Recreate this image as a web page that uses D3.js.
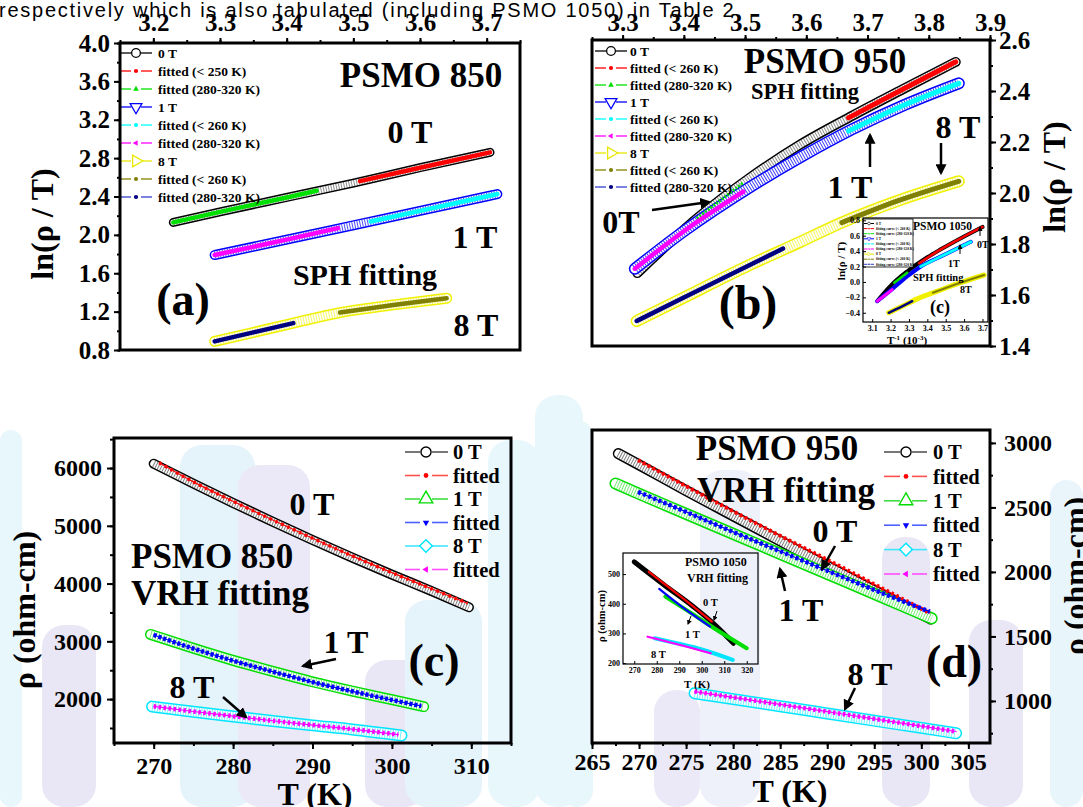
<!DOCTYPE html>
<html>
<head>
<meta charset="utf-8">
<script src="https://cdn.jsdelivr.net/npm/d3@7"></script>
<style>
body{margin:0;background:#fff;}
svg{display:block;}
</style>
</head>
<body>
<svg id="fig" width="1083" height="807"></svg>
<script>
//resistivity fits for PSMO 850 / 950 / 1050, four panels + two insets

// ---- (a) PSMO 850, SPH: x = 1/T (10^-3 K^-1), y = ln(rho/T)
var aTicksX = [3.2,3.3,3.4,3.5,3.6,3.7];
var aTicksY = [0.8,1.2,1.6,2.0,2.4,2.8,3.2,3.6,4.0];
var a0T     = [[3.23,2.13],[3.30,2.24],[3.40,2.39],[3.50,2.54],[3.60,2.70],[3.705,2.86]];
var a0Tlow  = [[3.51,2.56],[3.60,2.70],[3.705,2.86]];
var a0Thigh = [[3.23,2.13],[3.30,2.24],[3.40,2.39],[3.445,2.46]];
var a1T     = [[3.292,1.79],[3.40,1.95],[3.50,2.10],[3.60,2.25],[3.716,2.425]];
var a1Tlow  = [[3.526,2.14],[3.60,2.25],[3.716,2.425]];
var a1Thigh = [[3.292,1.79],[3.40,1.95],[3.477,2.07]];
var a8T     = [[3.292,0.89],[3.41,1.08],[3.48,1.19],[3.56,1.27],[3.64,1.34]];
var a8Tlow  = [[3.48,1.19],[3.56,1.27],[3.64,1.34]];
var a8Thigh = [[3.292,0.89],[3.41,1.08]];
var aLegend = ["0 T","fitted (< 250 K)","fitted (280-320 K)","1 T","fitted (< 260 K)","fitted (280-320 K)","8 T","fitted (< 260 K)","fitted (280-320 K)"];

// ---- (b) PSMO 950, SPH
var bTicksX = [3.3,3.4,3.5,3.6,3.7,3.8,3.9];
var bTicksY = [1.4,1.6,1.8,2.0,2.2,2.4,2.6];
var b0T     = [[3.324,1.686],[3.421,1.90],[3.506,2.057],[3.59,2.19],[3.675,2.303],[3.76,2.41],[3.844,2.514]];
var b0Tlow  = [[3.669,2.295],[3.76,2.41],[3.844,2.514]];
var b0Thigh = [[3.421,1.90],[3.497,2.04]];
var b1T     = [[3.32,1.703],[3.40,1.85],[3.506,2.02],[3.59,2.14],[3.675,2.25],[3.76,2.345],[3.849,2.43]];
var b1Tlow  = [[3.669,2.243],[3.76,2.345],[3.849,2.43]];
var b1Thigh = [[3.32,1.703],[3.40,1.85],[3.497,2.005]];
var b8T     = [[3.323,1.498],[3.40,1.59],[3.506,1.716],[3.59,1.808],[3.658,1.884],[3.75,1.97],[3.849,2.046]];
var b8Tlow  = [[3.658,1.884],[3.75,1.97],[3.849,2.046]];
var b8Thigh = [[3.323,1.498],[3.40,1.59],[3.506,1.716],[3.562,1.782]];
var bLegend = ["0 T","fitted (< 260 K)","fitted (280-320 K)","1 T","fitted (< 260 K)","fitted (280-320 K)","8 T","fitted (< 260 K)","fitted (280-320 K)"];

// ---- inset of (b): PSMO 1050, SPH
var icTicksX = [3.1,3.2,3.3,3.4,3.5,3.6,3.7];
var icTicksY = [-0.4,-0.2,0.0,0.2,0.4,0.6,0.8];
var ic0T     = [[3.13,-0.24],[3.2,-0.05],[3.29,0.136],[3.4,0.32],[3.473,0.423],[3.6,0.59],[3.7,0.714]];
var ic0Tlow  = [[3.355,0.243],[3.473,0.423],[3.6,0.59],[3.7,0.714]];
var ic0Thigh = [[3.22,-0.01],[3.29,0.12]];
var ic1T     = [[3.127,-0.25],[3.21,-0.09],[3.29,0.07],[3.364,0.2],[3.473,0.33],[3.636,0.52]];
var ic1Tlow  = [[3.364,0.2],[3.473,0.33],[3.636,0.52]];
var ic1Thigh = [[3.127,-0.25],[3.209,-0.1]];
var ic8T     = [[3.19,-0.40],[3.26,-0.32],[3.345,-0.22],[3.455,-0.12],[3.58,-0.01],[3.709,0.09]];
var ic8Tlow  = [[3.43,-0.14],[3.58,-0.01],[3.709,0.09]];
var ic8Thigh = [[3.19,-0.40],[3.26,-0.32],[3.318,-0.25]];
var icLegend = ["0 T","fitting curve (< 260 K)","fitting curve (280-320 K)","1 T","fitting curve (< 260 K)","fitting curve (280-320 K)","8 T","fitting curve (< 260 K)","fitting curve (280-320 K)"];

// ---- (c) PSMO 850, VRH: T (K) vs rho (ohm-cm)
var cTicksX = [270,280,290,300,310];
var cTicksY = [2000,3000,4000,5000,6000];
var c0T    = [[270,6075],[275,5730],[280,5395],[285,5070],[290,4755],[295,4450],[300,4155],[305,3870],[309.7,3590]];
var c0Tfit = [[270.7,6090],[275,5760],[280,5425],[285,5100],[290,4785],[295,4480],[300,4190],[305,3910],[309.5,3660]];
var c1T    = [[269.6,3120],[275,2880],[280,2670],[285,2480],[290,2300],[295,2140],[300,1990],[304,1870]];
var c1Tfit = [[270,3110],[275,2875],[280,2665],[285,2475],[290,2295],[295,2135],[300,1985],[303.7,1880]];
var c8T    = [[269.8,1870],[275,1780],[280,1700],[285,1620],[290,1545],[295,1475],[301.2,1370]];
var c8Tfit = [[270,1875],[275,1785],[280,1705],[285,1625],[290,1550],[295,1480],[300.8,1385]];
var vrhLegend = ["0 T","fitted","1 T","fitted","8 T","fitted"];

// ---- (d) PSMO 950, VRH
var dTicksX = [265,270,275,280,285,290,295,300,305];
var dTicksY = [1000,1500,2000,2500,3000];
var d0T    = [[267.8,2917],[270,2830],[275,2630],[280,2435],[285,2240],[290,2045],[295,1855],[301,1635]];
var d0Tfit = [[269.9,2866],[275,2665],[280,2470],[285,2280],[290,2095],[295,1905],[300.9,1680]];
var d1T    = [[267.5,2685],[270,2605],[275,2450],[280,2295],[285,2140],[290,1985],[295,1830],[301.1,1640]];
var d1Tfit = [[269.9,2620],[275,2465],[280,2310],[285,2160],[290,2010],[295,1860],[300.9,1692]];
var d8T    = [[275.9,1060],[280,1014],[285,959],[290,903],[295,847],[300,791],[303.7,750]];
var d8Tfit = [[275.9,1073],[280,1028],[290,917],[300,805],[303.7,763]];

// ---- inset of (d): PSMO 1050, VRH
var idTicksX = [270,280,290,300,310,320];
var idTicksY = [200,300,400,500];
var id0T    = [[270,541],[283,465],[296.3,390],[305,335],[314.1,267]];
var id0Tfit = [[276.4,508],[290,428],[304.5,340]];
var id1T    = [[283.8,424],[295,370],[305,320],[320,250]];
var id1Tfit = [[281.1,450],[292,385],[303.7,323]];
var id8T    = [[279,284],[290,265],[300,246],[313.8,211]];
var id8Tfit = [[275.9,289],[290,262],[304,233]];

var SERIF = '"Liberation Serif","Times New Roman",serif';
var svg = d3.select("#fig");

var defs = svg.append("defs");
function arrowHead(id, s){
	defs.append("marker").attr("id",id).attr("viewBox","0 0 10 10")
		.attr("refX",8).attr("refY",5).attr("markerWidth",s).attr("markerHeight",s)
		.attr("markerUnits","userSpaceOnUse").attr("orient","auto")
		.append("path").attr("d","M0,0L10,5L0,10z").attr("fill","#000");
}
arrowHead("ah",11);
arrowHead("ahs",5);

function txt(g,x,y,s,size,anchor,rot){
	var t = g.append("text").attr("x",x).attr("y",y)
		.attr("font-family",SERIF).attr("font-weight","bold").attr("font-size",size)
		.attr("text-anchor",anchor||"middle").attr("fill","#000").text(s);
	if(rot) t.attr("transform","rotate("+rot+","+x+","+y+")");
	return t;
}
function arrow(g,p,q,w,m){
	g.append("line").attr("x1",p[0]).attr("y1",p[1]).attr("x2",q[0]).attr("y2",q[1])
		.attr("stroke","#000").attr("stroke-width",w||2.5).attr("marker-end","url(#"+(m||"ah")+")");
}
function mkLine(x,y){
	return d3.line().x(function(d){return x(d[0])}).y(function(d){return y(d[1])}).curve(d3.curveMonotoneX);
}
//dense open markers read as a hatched band
function band(g,ln,data,color,w,op){
	var d = ln(data);
	g.append("path").attr("d",d).attr("fill","none").attr("stroke",color).attr("stroke-width",w).attr("stroke-linecap","round");
	g.append("path").attr("d",d).attr("fill","none").attr("stroke","#fff").attr("stroke-width",w-3).attr("stroke-linecap","round");
	g.append("path").attr("d",d).attr("fill","none").attr("stroke",color).attr("stroke-width",w-3)
		.attr("stroke-dasharray","1 1.6").attr("opacity",op||0.55);
}
function fit(g,ln,data,color,w,dash){
	g.append("path").attr("d",ln(data)).attr("fill","none").attr("stroke",color).attr("stroke-width",w)
		.attr("stroke-linecap",dash?"butt":"round").attr("stroke-dasharray",dash||null);
}
function axis(g,kind,scale,pos,major,minor,o){
	var gen = {top:d3.axisTop,bottom:d3.axisBottom,left:d3.axisLeft,right:d3.axisRight}[kind];
	var tr = (kind=="top"||kind=="bottom") ? "translate(0,"+pos+")" : "translate("+pos+",0)";
	var gm = g.append("g").attr("transform",tr)
		.call(gen(scale).tickValues(minor).tickSize(o.minor).tickFormat(""));
	var gM = g.append("g").attr("transform",tr)
		.call(gen(scale).tickValues(major).tickSize(o.size).tickPadding(o.pad).tickFormat(o.fmt));
	[gm,gM].forEach(function(a){
		a.select(".domain").remove();
		a.selectAll("line").attr("stroke","#000").attr("stroke-width",o.tw||2);
	});
	gM.selectAll("text").attr("font-family",SERIF).attr("font-weight","bold")
		.attr("font-size",o.fs).attr("fill","#000");
	return gM;
}
function frame(g,b,w,fill){
	g.append("rect").attr("x",b.x0).attr("y",b.y0).attr("width",b.x1-b.x0).attr("height",b.y1-b.y0)
		.attr("fill",fill||"none").attr("stroke",fill?"none":"#000").attr("stroke-width",w||3);
}
function legend(g,labels,styles,o){
	labels.forEach(function(lab,i){
		var s = styles[i], yy = o.y + i*o.dy;
		g.append("line").attr("x1",o.x0).attr("x2",o.xs-o.gap).attr("y1",yy).attr("y2",yy)
			.attr("stroke",s.lc||s.c).attr("stroke-width",o.lw);
		g.append("line").attr("x1",o.xs+o.gap).attr("x2",o.x1).attr("y1",yy).attr("y2",yy)
			.attr("stroke",s.lc||s.c).attr("stroke-width",o.lw);
		g.append("path").attr("d",d3.symbol().type(s.t).size(s.open?o.big:o.small)())
			.attr("transform","translate("+o.xs+","+yy+") rotate("+(s.r||0)+")")
			.attr("fill",s.open?"#fff":s.c).attr("stroke",s.c).attr("stroke-width",s.open?o.sw:0);
		txt(g,o.tx,yy,lab,o.fs,"start").attr("dy","0.35em");
	});
}

var sphStyles = [
	{c:"#000",t:d3.symbolCircle,open:1},
	{c:"#ff0000",t:d3.symbolCircle},
	{c:"#00e000",t:d3.symbolTriangle},
	{c:"#0000ff",t:d3.symbolTriangle,r:180,open:1},
	{c:"#00ffff",t:d3.symbolCircle},
	{c:"#ff00ff",t:d3.symbolTriangle,r:-90},
	{c:"#e8e800",t:d3.symbolTriangle,r:90,open:1},
	{c:"#808000",t:d3.symbolCircle},
	{c:"#000080",t:d3.symbolCircle,lc:"#3340d0"}
];
var vrhStyles = [
	{c:"#000",t:d3.symbolCircle,open:1,lc:"#555"},
	{c:"#ff0000",t:d3.symbolCircle,lc:"#ff5050"},
	{c:"#00dd00",t:d3.symbolTriangle,open:1,lc:"#40dd40"},
	{c:"#0000ff",t:d3.symbolTriangle,r:180,lc:"#5060ff"},
	{c:"#00e5ff",t:d3.symbolSquare,r:45,open:1,lc:"#40e8ff"},
	{c:"#ff00ff",t:d3.symbolTriangle,r:-90,lc:"#ff50ff"}
];

// ---- faded background logo
var wm = svg.append("g").attr("opacity",0.5);
[
	[0,430,22,377,"#d3f0fa"],[42,625,54,182,"#d4cfee"],[180,445,75,362,"#cce8f8"],
	[238,465,72,342,"#d9d4f0"],[365,660,62,147,"#d4cfee"],[405,600,77,207,"#cce8f8"],
	[488,440,52,367,"#d3f1fa"],[535,395,48,412,"#d3f1fa"],[560,420,33,387,"#d3f1fa"],
	[654,690,46,117,"#d9d4f0"],[700,470,60,337,"#dfe3f6"],[882,537,48,270,"#d4cfee"],
	[969,620,54,187,"#d4cfee"],[1050,480,33,327,"#d3ecf8"]
].forEach(function(r){
	wm.append("rect").attr("x",r[0]).attr("y",r[1]).attr("width",r[2]).attr("height",r[3])
		.attr("rx",Math.min(22,r[2]/2)).attr("fill",r[4]);
});

// sentence from the paper page behind the figure
svg.append("text").attr("x",-1).attr("y",17).attr("font-family",'"Liberation Sans",Arial,sans-serif')
	.attr("font-size",20).attr("fill","#000")
	.attr("textLength",742).attr("lengthAdjust","spacing")
	.text("respectively which is also tabulated (including PSMO 1050) in Table 2.");

var f1 = d3.format(".1f");

// ================= (a)
var A = {x0:120,x1:520,y0:43,y1:350};
var gA = svg.append("g");
frame(gA,A,0,"#fff");
var xA = d3.scaleLinear().domain([3.15,3.75]).range([A.x0,A.x1]);
var yA = d3.scaleLinear().domain([0.8,4.0]).range([A.y1,A.y0]);
var lnA = mkLine(xA,yA);
band(gA,lnA,a0T,"#000",9,0.45);
fit(gA,lnA,a0Tlow,"#ff0000",4.5);
fit(gA,lnA,a0Thigh,"#00e000",4.5);
band(gA,lnA,a1T,"#0000ff",10,0.7);
fit(gA,lnA,a1Tlow,"#00ffff",4.5);
fit(gA,lnA,a1Thigh,"#ff00ff",4.5);
band(gA,lnA,a8T,"#f0f000",11,0.6);
fit(gA,lnA,a8Tlow,"#808000",4.5);
fit(gA,lnA,a8Thigh,"#000080",4.5);
legend(gA,aLegend,sphStyles,{x0:119,x1:152,xs:136,gap:5,tx:158,y:53,dy:18,lw:1.3,fs:13.5,big:60,small:14,sw:1.3});
frame(gA,A,3);
axis(gA,"top",xA,A.y0,aTicksX,d3.range(3.15,3.76,0.05),{size:5,minor:3,pad:7,fmt:f1,fs:25});
axis(gA,"left",yA,A.x0,aTicksY,d3.range(0.8,4.01,0.2),{size:6,minor:3,pad:4,fmt:f1,fs:25});
txt(gA,53,224,"ln(\u03C1 / T)",32,"middle",-90);
txt(gA,421,87,"PSMO 850",35);
txt(gA,410,143,"0 T",32);
txt(gA,475,248,"1 T",32);
txt(gA,365,285,"SPH fitting",30);
txt(gA,183,315,"(a)",46);
txt(gA,476,336,"8 T",32);

// ================= (b)
var B = {x0:592,x1:990,y0:40,y1:346};
var gB = svg.append("g");
frame(gB,B,0,"#fff");
defs.append("clipPath").attr("id","clipB").append("rect")
	.attr("x",B.x0).attr("y",B.y0).attr("width",B.x1-B.x0).attr("height",B.y1-B.y0);
var xB = d3.scaleLinear().domain([3.25,3.9]).range([B.x0,B.x1]);
var yB = d3.scaleLinear().domain([1.4,2.6]).range([B.y1,B.y0]);
var lnB = mkLine(xB,yB);
band(gB,lnB,b8T,"#f0f000",12,0.6);
fit(gB,lnB,b8Tlow,"#808000",5);
fit(gB,lnB,b8Thigh,"#000080",4.5);
band(gB,lnB,b0T,"#000",10,0.45);
band(gB,lnB,b1T,"#0000ff",12,0.75);
fit(gB,lnB,b0Tlow,"#ff0000",5);
fit(gB,lnB,b0Thigh,"#00e000",3,"2 1.5");
fit(gB,lnB,b1Tlow,"#00ffff",5);
fit(gB,lnB,b1Thigh,"#ff00ff",4.5);
legend(gB,bLegend,sphStyles,{x0:595,x1:627,xs:611,gap:5,tx:630,y:51,dy:17,lw:1.3,fs:13.5,big:60,small:14,sw:1.3});
txt(gB,825,73,"PSMO 950",35);
txt(gB,805,99,"SPH fitting",22.5);
txt(gB,958,138,"8 T",32);
txt(gB,850,198,"1 T",32);
txt(gB,621,233,"0T",32);
txt(gB,748,319,"(b)",48);
arrow(gB,[652,210],[709,202]);
arrow(gB,[870,167],[870,135]);
arrow(gB,[941,143],[941,173]);

// inset (c) inside (b)
var IC = {x0:863,x1:988,y0:218,y1:322};
var gI = gB.append("g").attr("clip-path","url(#clipB)");
frame(gI,IC,0,"#fff");
var xI = d3.scaleLinear().domain([3.05,3.73]).range([IC.x0,IC.x1]);
var yI = d3.scaleLinear().domain([-0.52,0.83]).range([IC.y1,IC.y0]);
var lnI = mkLine(xI,yI);
fit(gI,lnI,ic8T,"#f0f000",5);
fit(gI,lnI,ic8Tlow,"#808000",2.2);
fit(gI,lnI,ic8Thigh,"#000080",2.5);
fit(gI,lnI,ic0T,"#000",4);
fit(gI,lnI,ic1T,"#0000ff",4);
fit(gI,lnI,ic0Tlow,"#ff0000",2.5);
fit(gI,lnI,ic0Thigh,"#00e000",2.5);
fit(gI,lnI,ic1Tlow,"#00ffff",3);
fit(gI,lnI,ic1Thigh,"#ff00ff",3);
gI.append("rect").attr("x",863).attr("y",219).attr("width",50).attr("height",48)
	.attr("fill","#fff").attr("stroke","#000").attr("stroke-width",0.8);
legend(gI,icLegend,sphStyles,{x0:864,x1:874,xs:869,gap:1.5,tx:876,y:223.5,dy:5.1,lw:1,fs:3.6,big:6,small:2,sw:0.6});
frame(gI,IC,1.2);
axis(gI,"bottom",xI,IC.y1,icTicksX,[],{size:-3,minor:0,pad:3,fmt:f1,fs:8,tw:1});
axis(gI,"left",yI,IC.x0,icTicksY,[],{size:-3,minor:0,pad:3,fmt:f1,fs:8,tw:1});
txt(gI,845,261,"ln(\u03C1 / T)",11,"middle",-90);
var xl = txt(gI,907,344,"T",11);
xl.append("tspan").attr("baseline-shift","super").attr("font-size",7).text("-1");
xl.append("tspan").text(" (10");
xl.append("tspan").attr("baseline-shift","super").attr("font-size",7).text("-3");
xl.append("tspan").text(")");
txt(gI,913,230,"PSMO 1050",11.5,"start");
txt(gI,977,248,"0T",10,"start");
txt(gI,948,267,"1T",10,"start");
txt(gI,913,281,"SPH fitting",10.5,"start");
txt(gI,960,293,"8T",10,"start");
txt(gI,940,313,"(c)",18);
arrow(gI,[980,236],[980,227],1,"ahs");
arrow(gI,[960,254],[960,245],1,"ahs");

frame(gB,B,3);
axis(gB,"top",xB,B.y0,bTicksX,d3.range(3.25,3.91,0.05),{size:5,minor:3,pad:4,fmt:f1,fs:25});
axis(gB,"right",yB,B.x1,bTicksY,d3.range(1.4,2.61,0.1),{size:6,minor:3,pad:3,fmt:f1,fs:25});
txt(gB,1065,177,"ln(\u03C1 / T)",32,"middle",-90);

// ================= (c)
var C = {x0:114,x1:511,y0:438,y1:743};
var gC = svg.append("g");
var xC = d3.scaleLinear().domain([265,315]).range([C.x0,C.x1]);
var yC = d3.scaleLinear().domain([1240,6520]).range([C.y1,C.y0]);
var lnC = mkLine(xC,yC);
band(gC,lnC,c0T,"#000",10,0.5);
fit(gC,lnC,c0Tfit,"#ff0000",1.2);
fit(gC,lnC,c0Tfit,"#ff0000",3.5,"2.5 4");
band(gC,lnC,c1T,"#00dd00",11,0.55);
fit(gC,lnC,c1Tfit,"#0000ff",1.2);
fit(gC,lnC,c1Tfit,"#0000ff",4.5,"3 2");
band(gC,lnC,c8T,"#00e5ff",12,0.55);
fit(gC,lnC,c8Tfit,"#ff00ff",1.2);
fit(gC,lnC,c8Tfit,"#ff00ff",4.5,"2.5 2.5");
legend(gC,vrhLegend,vrhStyles,{x0:405,x1:448,xs:426,gap:6,tx:453,y:452,dy:23.5,lw:1.6,fs:20.5,big:80,small:18,sw:1.4});
frame(gC,C,3);
axis(gC,"bottom",xC,C.y1,cTicksX,d3.range(265,315.1,5),{size:6,minor:3,pad:8,fmt:d3.format("d"),fs:24});
axis(gC,"left",yC,C.x0,cTicksY,d3.range(1500,6501,500),{size:7,minor:4,pad:5,fmt:d3.format("d"),fs:24});
txt(gC,35,610,"\u03C1 (ohm-cm)",32,"middle",-90);
txt(gC,315,805,"T (K)",32);
txt(gC,312,515,"0 T",32);
txt(gC,131,568,"PSMO 850",35,"start");
txt(gC,131,605,"VRH fitting",35,"start");
txt(gC,346,653,"1 T",32);
txt(gC,434,676,"(c)",46);
txt(gC,192,698,"8 T",32);
arrow(gC,[336,659],[303,666]);
arrow(gC,[223,697],[246,717]);

// ================= (d)
var D = {x0:592,x1:990,y0:430,y1:743};
var gD = svg.append("g");
var xD = d3.scaleLinear().domain([265,307.3]).range([D.x0,D.x1]);
var yD = d3.scaleLinear().domain([674,3100]).range([D.y1,D.y0]);
var lnD = mkLine(xD,yD);
band(gD,lnD,d0T,"#000",11,0.5);
band(gD,lnD,d1T,"#00dd00",12,0.55);
fit(gD,lnD,d0Tfit,"#ff0000",1.2);
fit(gD,lnD,d0Tfit,"#ff0000",4,"2.5 3");
fit(gD,lnD,d1Tfit,"#0000ff",1.2);
fit(gD,lnD,d1Tfit,"#0000ff",4.5,"3 2.5");
band(gD,lnD,d8T,"#00e5ff",12,0.55);
fit(gD,lnD,d8Tfit,"#ff00ff",1.2);
fit(gD,lnD,d8Tfit,"#ff00ff",4.5,"2.5 2.5");
legend(gD,vrhLegend,vrhStyles,{x0:884,x1:927,xs:906,gap:6,tx:933,y:452,dy:24.4,lw:1.6,fs:20.5,big:80,small:18,sw:1.4});

// inset of (d)
var ID = {x0:623,x1:758,y0:553,y1:664};
var gJ = gD.append("g");
var xJ = d3.scaleLinear().domain([265,325]).range([ID.x0,ID.x1]);
var yJ = d3.scaleLinear().domain([197,571]).range([ID.y1,ID.y0]);
var lnJ = mkLine(xJ,yJ);
fit(gJ,lnJ,id0T,"#000",5);
fit(gJ,lnJ,id1T,"#00dd00",4);
fit(gJ,lnJ,id0Tfit,"#ff0000",2.2);
fit(gJ,lnJ,id1Tfit,"#0000ff",2.2);
fit(gJ,lnJ,id8T,"#00e5ff",4);
fit(gJ,lnJ,id8Tfit,"#ff00ff",2.2);
frame(gJ,ID,1.2);
axis(gJ,"bottom",xJ,ID.y1,idTicksX,[],{size:-3,minor:0,pad:3,fmt:d3.format("d"),fs:8,tw:1});
axis(gJ,"left",yJ,ID.x0,idTicksY,[],{size:-3,minor:0,pad:3,fmt:d3.format("d"),fs:8,tw:1});
txt(gJ,605,616,"\u03C1 (ohm-cm)",10.5,"middle",-90);
txt(gJ,697,688,"T (K)",11);
txt(gJ,685,566,"PSMO 1050",12,"start");
txt(gJ,687,582,"VRH fitting",12,"start");
txt(gJ,703,606,"0 T",10.5,"start");
txt(gJ,685,638,"1 T",10.5,"start");
txt(gJ,651,658,"8 T",10.5,"start");
arrow(gJ,[717,611],[714,620],1,"ahs");
arrow(gJ,[691,616],[688,624],1,"ahs");

frame(gD,D,3);
axis(gD,"bottom",xD,D.y1,dTicksX,d3.range(265,307.3,2.5),{size:6,minor:3,pad:4,fmt:d3.format("d"),fs:24});
axis(gD,"right",yD,D.x1,dTicksY,d3.range(750,3100,250),{size:6,minor:3,pad:8,fmt:d3.format("d"),fs:24});
txt(gD,1086,576,"\u03C1 (ohm-cm)",32,"middle",-90);
txt(gD,790,802,"T (K)",32);
txt(gD,777,460,"PSMO 950",35);
txt(gD,786,502,"VRH fitting",35);
txt(gD,835,542,"0 T",32);
txt(gD,801,621,"1 T",32);
txt(gD,954,677,"(d)",46);
txt(gD,870,685,"8 T",32);
arrow(gD,[835,546],[822,569]);
arrow(gD,[785,591],[780,569]);
arrow(gD,[855,688],[845,709]);
</script>
</body>
</html>
